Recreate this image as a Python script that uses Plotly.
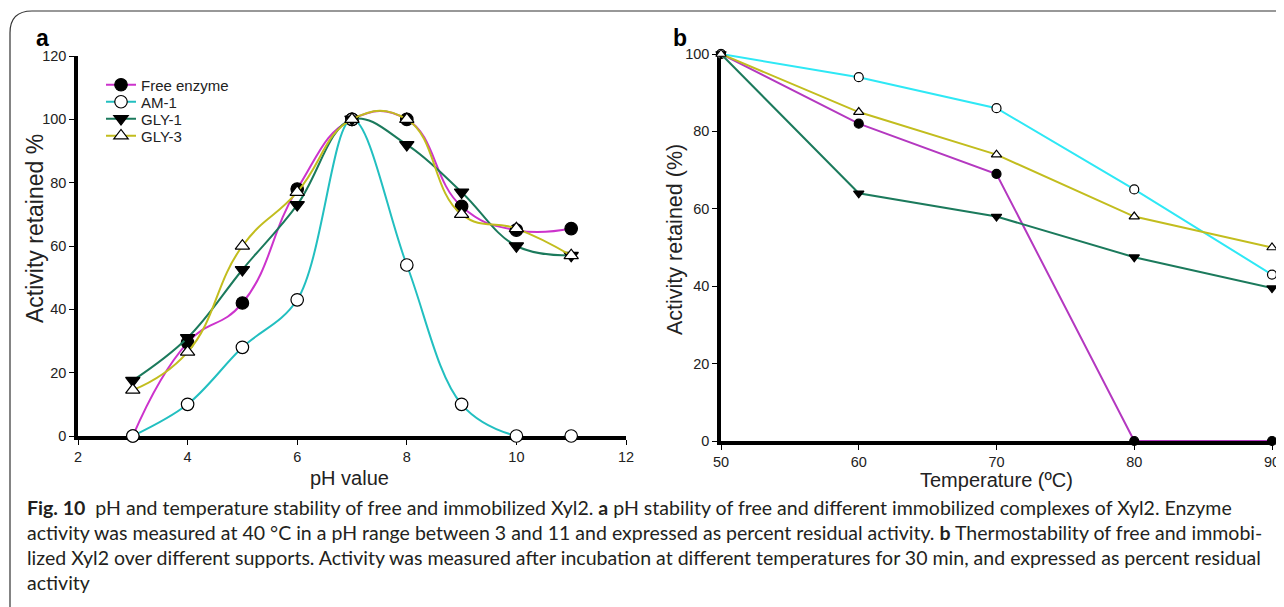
import plotly.graph_objects as go

W, H = 1284, 607
OFF = 8  # default body margin of the html page

# ---- data ----
series_names = ["Free enzyme", "AM-1", "GLY-1", "GLY-3"]
ph_values = [3, 4, 5, 6, 7, 8, 9, 10, 11]
ph_free = [0, 29.5, 42, 78, 100, 100, 72.5, 65, 65.5]
ph_am1 = [0, 10, 28, 43, 100, 54, 10, 0, 0]
ph_gly1 = [17.5, 31, 52.5, 73, 100, 92, 77, 60, 57]
ph_gly3 = [14.5, 26.5, 60, 77, 100, 100, 70, 65.5, 57]

temp_values = [50, 60, 70, 80, 90]
t_free = [100, 82, 69, 0, 0]
t_am1 = [100, 94, 86, 65, 43]
t_gly1 = [100, 64, 58, 47.5, 39.5]
t_gly3 = [100, 85, 74, 58, 50]

ph_ticks = [2, 4, 6, 8, 10, 12]
ph_yticks = [0, 20, 40, 60, 80, 100, 120]
temp_ticks = [50, 60, 70, 80, 90]
temp_yticks = [0, 20, 40, 60, 80, 100]

# ---- styles ----
left_colors = ["#cc33cc", "#22bfc0", "#1b7a5c", "#c2bd1e"]
right_colors = ["#b438c0", "#2ee8f5", "#1b7a5c", "#c2bd1e"]
symbols = ["circle", "circle", "triangle-down", "triangle-up"]
fills = ["black", "white", "black", "white"]
smooth = [1.3, 1.0, 1.1, 1.3]
legend_ids = ["legend", "legend2", "legend3", "legend4"]
legend_py = [85, 102, 119, 136]


def px_x(p):
    return (p - OFF) / W


def px_y(p):
    return 1 - (p - OFF) / H


fig = go.Figure()

ph_series = [ph_free, ph_am1, ph_gly1, ph_gly3]
for name, ys, col, sym, fc, sm, lg in zip(series_names, ph_series, left_colors, symbols,
                                         fills, smooth, legend_ids):
    fig.add_trace(go.Scatter(
        x=ph_values, y=ys, name=name, mode="lines+markers", legend=lg,
        line=dict(color=col, width=2, shape="spline", smoothing=sm),
        marker=dict(symbol=sym, size=12.5, color=fc, line=dict(color="black", width=1.2)),
        cliponaxis=False, xaxis="x", yaxis="y",
    ))

t_series = [t_free, t_am1, t_gly1, t_gly3]
for name, ys, col, sym, fc in zip(series_names, t_series, right_colors, symbols, fills):
    fig.add_trace(go.Scatter(
        x=temp_values, y=ys, name=name, mode="lines+markers", showlegend=False,
        line=dict(color=col, width=2),
        marker=dict(symbol=sym, size=9, color=fc, line=dict(color="black", width=1.2)),
        cliponaxis=False, xaxis="x2", yaxis="y2",
    ))

FONT = "Liberation Sans, Arial, sans-serif"
axis_font = dict(family=FONT, size=14.5, color="#222")
common = dict(showgrid=False, zeroline=False, showline=True, linecolor="black",
              ticks="outside", ticklen=5, tickwidth=1, tickcolor="black",
              tickfont=axis_font, layer="below traces", automargin=False)

layout_legends = {}
for lg, py in zip(legend_ids, legend_py):
    layout_legends[lg] = dict(
        x=px_x(101), y=px_y(py), xanchor="left", yanchor="middle",
        font=dict(family=FONT, size=15, color="#222"),
        bgcolor="rgba(0,0,0,0)", itemwidth=30)

fig.update_layout(
    width=W, height=H,
    margin=dict(l=0, r=0, t=0, b=0, autoexpand=False),
    paper_bgcolor="white", plot_bgcolor="white",
    xaxis=dict(domain=[px_x(78), px_x(626)], range=[2, 12], tickvals=ph_ticks,
               linewidth=3.5, anchor="y", **common),
    yaxis=dict(domain=[px_y(436), px_y(56)], range=[0, 120], tickvals=ph_yticks,
               linewidth=3.5, anchor="x", **common),
    xaxis2=dict(domain=[px_x(721), px_x(1272)], range=[50, 90], tickvals=temp_ticks,
                linewidth=3.5, anchor="y2", **common),
    yaxis2=dict(domain=[px_y(441), px_y(54)], range=[0, 100], tickvals=temp_yticks,
                linewidth=3.5, anchor="x2", **common),
    showlegend=True,
    **layout_legends,
)

# axis titles
titles = [
    ("pH value", 350, 478, 0, 20),
    ("Temperature (ºC)", 997, 480, 0, 20),
    ("Activity retained %", 35, 229, -90, 23),
    ("Activity retained (%)", 675, 240, -90, 21.5),
]
for txt, xp, yp, ang, fs in titles:
    fig.add_annotation(text=txt, x=px_x(xp), y=px_y(yp), xref="paper", yref="paper",
                       showarrow=False, xanchor="center", yanchor="middle", textangle=ang,
                       font=dict(family=FONT, size=fs, color="#222"))

# panel letters
for txt, xp, yp in [("a", 42, 38), ("b", 680, 38)]:
    fig.add_annotation(text=f"<b>{txt}</b>", x=px_x(xp), y=px_y(yp), xref="paper", yref="paper",
                       showarrow=False, xanchor="center", yanchor="middle",
                       font=dict(family=FONT, size=23, color="black"))

# caption
cap_font = dict(family="Lato, Noto Sans, sans-serif", size=19.55, color="#231f20")
caption_lines = [
    "<b>Fig. 10</b>\u00a0\u00a0pH and temperature stability of free and immobilized Xyl2. <b>a</b> pH stability of free and different immobilized complexes of Xyl2. Enzyme",
    "activity was measured at 40 °C in a pH range between 3 and 11 and expressed as percent residual activity. <b>b</b> Thermostability of free and immobi-",
    "lized Xyl2 over different supports. Activity was measured after incubation at different temperatures for 30 min, and expressed as percent residual",
    "activity",
]
for i, line in enumerate(caption_lines):
    fig.add_annotation(text=line, x=px_x(25), y=px_y(507 + 25 * i), xref="paper", yref="paper",
                       showarrow=False, xanchor="left", yanchor="middle", align="left",
                       font=cap_font)

# rounded frame
x0, y0, r = px_x(10), px_y(11), 22
path = (f"M {x0},{px_y(H + 20)} L {x0},{px_y(11 + r)} "
        f"Q {x0},{y0} {px_x(10 + r)},{y0} L {px_x(W + 20)},{y0}")
fig.add_shape(type="path", path=path, xref="paper", yref="paper",
              line=dict(color="#333", width=1.2), layer="below")

fig.write_html("out.html")
